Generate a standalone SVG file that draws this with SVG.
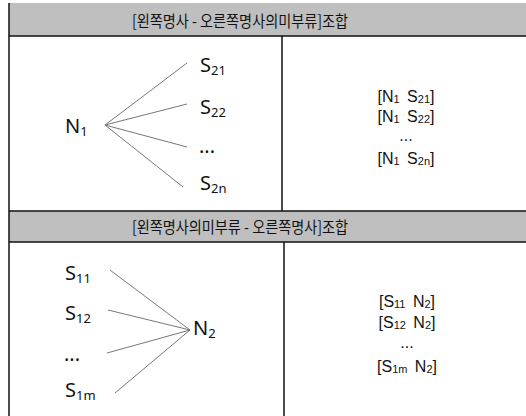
<svg xmlns="http://www.w3.org/2000/svg" width="526" height="416" viewBox="0 0 526 416">
<style>
.hdr{fill:#bfbfbf;stroke:none}
.border{stroke:#111;stroke-width:1.5;fill:none}
.htxt{font-family:"Noto Sans CJK KR","Noto Sans",sans-serif;font-size:16px;fill:#111;text-anchor:middle}
.lbl{font-family:"Noto Sans","Open Sans",sans-serif;font-size:20px;fill:#111}
.sub{font-size:13px}
.pair{font-family:"Liberation Sans",Arial,sans-serif;font-size:16px;fill:#111;text-anchor:middle;word-spacing:3px}
.psub{font-size:11px}
.conn line{stroke:#777;stroke-width:1}
</style>
<rect width="526" height="416" fill="#fff"/>
<g id="header1">
<rect class="hdr" x="9" y="3" width="517" height="33"/>
<text class="htxt" x="240" y="27" textLength="216" lengthAdjust="spacingAndGlyphs">[왼쪽명사 - 오른쪽명사의미부류]조합</text>
</g>
<g id="header2">
<rect class="hdr" x="9" y="211" width="517" height="31"/>
<text class="htxt" x="240" y="233" textLength="216" lengthAdjust="spacingAndGlyphs">[왼쪽명사의미부류 - 오른쪽명사]조합</text>
</g>
<g id="grid">
<line class="border" x1="9" y1="3" x2="9" y2="416"/>
<line class="border" x1="9" y1="36" x2="526" y2="36"/>
<line class="border" x1="9" y1="211" x2="526" y2="211"/>
<line class="border" x1="9" y1="242" x2="526" y2="242"/>
<line class="border" x1="282" y1="36" x2="282" y2="211"/>
<line class="border" x1="284" y1="242" x2="284" y2="416"/>
</g>
<g class="conn" id="connectors">
<line x1="105" y1="125" x2="187" y2="63"/>
<line x1="105" y1="125" x2="187" y2="104"/>
<line x1="105" y1="125" x2="187" y2="147"/>
<line x1="105" y1="125" x2="183" y2="187"/>
<line x1="110" y1="270" x2="190" y2="330"/>
<line x1="108" y1="310" x2="190" y2="330"/>
<line x1="107" y1="353" x2="190" y2="330"/>
<line x1="115" y1="393" x2="190" y2="330"/>
</g>
<g id="N1"><text class="lbl" x="65" y="133">N<tspan class="sub" dy="3">1</tspan></text></g>
<g id="S21"><text class="lbl" x="200" y="72">S<tspan class="sub" dy="3">21</tspan></text></g>
<g id="S22"><text class="lbl" x="200" y="114">S<tspan class="sub" dy="3">22</tspan></text></g>
<g id="dots1"><text class="lbl" x="199" y="153">...</text></g>
<g id="S2n"><text class="lbl" x="200" y="190">S<tspan class="sub" dy="3">2n</tspan></text></g>
<g id="pairs1">
<text class="pair" x="406" y="102">[N<tspan class="psub" dy="1">1</tspan><tspan dy="-1"> S</tspan><tspan class="psub" dy="1">21</tspan><tspan dy="-1">]</tspan></text>
<text class="pair" x="406" y="122">[N<tspan class="psub" dy="1">1</tspan><tspan dy="-1"> S</tspan><tspan class="psub" dy="1">22</tspan><tspan dy="-1">]</tspan></text>
<text class="pair" x="406" y="141">...</text>
<text class="pair" x="406" y="164">[N<tspan class="psub" dy="1">1</tspan><tspan dy="-1"> S</tspan><tspan class="psub" dy="1">2n</tspan><tspan dy="-1">]</tspan></text>
</g>
<g id="S11"><text class="lbl" x="65" y="280">S<tspan class="sub" dy="3">11</tspan></text></g>
<g id="S12"><text class="lbl" x="65" y="320">S<tspan class="sub" dy="3">12</tspan></text></g>
<g id="dots2"><text class="lbl" x="64" y="361">...</text></g>
<g id="S1m"><text class="lbl" x="65" y="397">S<tspan class="sub" dy="3">1m</tspan></text></g>
<g id="N2"><text class="lbl" x="193" y="335">N<tspan class="sub" dy="3">2</tspan></text></g>
<g id="pairs2">
<text class="pair" x="407" y="307">[S<tspan class="psub" dy="1">11</tspan><tspan dy="-1"> N</tspan><tspan class="psub" dy="1">2</tspan><tspan dy="-1">]</tspan></text>
<text class="pair" x="407" y="328">[S<tspan class="psub" dy="1">12</tspan><tspan dy="-1"> N</tspan><tspan class="psub" dy="1">2</tspan><tspan dy="-1">]</tspan></text>
<text class="pair" x="407" y="348">...</text>
<text class="pair" x="407" y="372">[S<tspan class="psub" dy="1">1m</tspan><tspan dy="-1"> N</tspan><tspan class="psub" dy="1">2</tspan><tspan dy="-1">]</tspan></text>
</g>
</svg>
